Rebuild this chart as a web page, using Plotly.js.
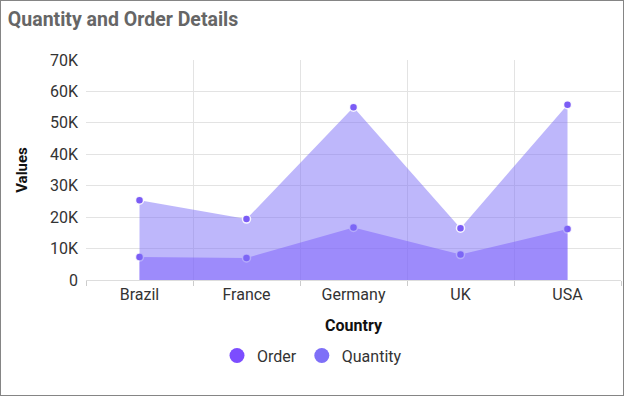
<!DOCTYPE html>
<html>
<head>
<meta charset="utf-8">
<script src="https://cdn.plot.ly/plotly-3.0.1.min.js"></script>
<style>
  html, body { margin: 0; padding: 0; background: #fff; }
  #chart { width: 622px; height: 394px; border: 1px solid #858585; }
</style>
</head>
<body>
<div id="chart"></div>
<script>
const countries = ["Brazil", "France", "Germany", "UK", "USA"];
const orderValues = [7300, 7000, 16700, 8100, 16200];
const quantityValues = [25400, 19400, 55000, 16500, 55800];
const yTickValues = [0, 10000, 20000, 30000, 40000, 50000, 60000, 70000];
const yTickLabels = ["0", "10K", "20K", "30K", "40K", "50K", "60K", "70K"];

const orderColor = "#7c4dff";
const quantityColor = "#7e6ff7";

const traces = [
  {
    x: countries, y: orderValues, type: "scatter", mode: "lines+markers",
    fill: "tozeroy", fillcolor: "rgba(124,77,255,0.5)",
    line: { width: 0, color: orderColor },
    marker: { size: 8, color: "#7b5cf5", line: { color: "rgba(255,255,255,0.8)", width: 1.5 } },
    showlegend: false, name: "Order", hoverinfo: "x+y+name"
  },
  {
    x: countries, y: quantityValues, type: "scatter", mode: "lines+markers",
    fill: "tozeroy", fillcolor: "rgba(126,111,247,0.5)",
    line: { width: 0, color: quantityColor },
    marker: { size: 8, color: "#7b5cf5", line: { color: "rgba(255,255,255,0.9)", width: 1.5 } },
    showlegend: false, name: "Quantity", hoverinfo: "x+y+name"
  },
  {
    x: [null], y: [null], type: "scatter", mode: "markers", name: "Order",
    marker: { size: 15, color: orderColor }, showlegend: true
  },
  {
    x: [null], y: [null], type: "scatter", mode: "markers", name: "Quantity",
    marker: { size: 15, color: quantityColor }, showlegend: true
  }
];

const layout = {
  width: 622, height: 394,
  margin: { l: 85, r: 2, t: 59, b: 115 },
  paper_bgcolor: "#ffffff", plot_bgcolor: "#ffffff",
  font: { family: "Roboto, sans-serif", size: 16, color: "#333333" },
  title: {
    text: "<b>Quantity and Order Details</b>",
    x: 0.011, xref: "container", xanchor: "left", y: 0.953, yref: "container", yanchor: "middle",
    pad: { l: 0 },
    font: { family: "Roboto, sans-serif", size: 19.5, color: "#666666" }
  },
  xaxis: {
    type: "category", range: [-0.5, 4.5],
    tickson: "boundaries", ticks: "outside", ticklen: 5, tickcolor: "#cccccc",
    showgrid: true, gridcolor: "#e3e3e3", gridwidth: 1,
    showline: true, linecolor: "#dddddd", linewidth: 1,
    zeroline: false,
    tickfont: { size: 16, color: "#333333" },
    title: { text: "<b>Country</b>", font: { size: 16, color: "#111111" }, standoff: 16 },
    fixedrange: true
  },
  yaxis: {
    range: [0, 70000], tickvals: yTickValues, ticktext: yTickLabels,
    showgrid: true, gridcolor: "#e3e3e3", gridwidth: 1,
    zeroline: false, showline: false, ticks: "",
    ticklabelstandoff: 7,
    tickfont: { size: 16, color: "#333333" },
    title: { text: "<b>Values</b>", font: { size: 15, color: "#111111" }, standoff: 18 },
    fixedrange: true
  },
  legend: {
    orientation: "h", x: 0.5, xanchor: "center", xref: "container",
    y: 0.1, yref: "container", yanchor: "middle",
    font: { size: 16, color: "#333333" }, itemwidth: 30, tracegroupgap: 0
  },
  showlegend: true,
  hovermode: "closest"
};

Plotly.newPlot("chart", traces, layout, { displayModeBar: false, responsive: false });
</script>
</body>
</html>
